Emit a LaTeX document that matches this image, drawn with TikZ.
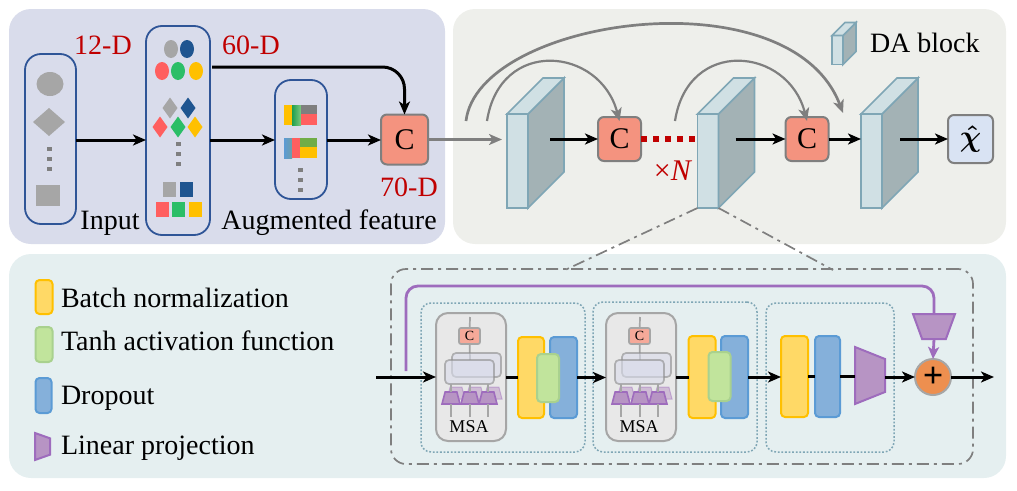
\documentclass[tikz,border=0pt]{standalone}
\usepackage{fontspec}
\setmainfont{Liberation Serif}
\usetikzlibrary{arrows.meta,positioning,shapes.geometric,calc}
\definecolor{panA}{HTML}{D9DCEB}
\definecolor{panB}{HTML}{EEEFEB}
\definecolor{panC}{HTML}{E5EFF0}
\definecolor{navy}{HTML}{2F5597}
\definecolor{dkred}{HTML}{C00000}
\definecolor{shgray}{HTML}{A6A6A6}
\definecolor{shblue}{HTML}{1F5590}
\definecolor{shred}{HTML}{FF5F5F}
\definecolor{shgreen}{HTML}{2BBE67}
\definecolor{shyel}{HTML}{FFC000}
\definecolor{edge}{HTML}{7F7F7F}
\definecolor{cfill}{HTML}{F4937F}
\definecolor{blkedge}{HTML}{7FA6B5}
\definecolor{blkfront}{HTML}{D0E0E4}
\definecolor{blkside}{HTML}{A3B2B5}
\definecolor{bnfill}{HTML}{FFD966}
\definecolor{tanhfill}{HTML}{C1E49C}
\definecolor{tanhedge}{HTML}{A9D18E}
\definecolor{dropfill}{HTML}{85B0DA}
\definecolor{dropedge}{HTML}{5B9BD5}
\definecolor{projfill}{HTML}{B794C4}
\definecolor{projedge}{HTML}{9E6CBD}
\definecolor{addfill}{HTML}{ED8F4F}
\definecolor{gradA}{HTML}{1F9F4F}
\definecolor{gradB}{HTML}{7FC97F}
\definecolor{gradC}{HTML}{6E9EA8}
\definecolor{barG}{HTML}{70AD47}
\definecolor{outfill}{HTML}{D9E3F3}
\begin{document}
\begin{tikzpicture}[
  x=1pt,y=-1pt,
  every node/.style={inner sep=0pt,outer sep=0pt},
  txt/.style={font=\fontsize{28}{30}\selectfont},
  redtxt/.style={txt,text=dkred,anchor=base},
  panel/.style={rounded corners=22pt,minimum width=#1},
  group/.style={draw=navy,line width=1.8pt,rounded corners=16pt},
  cbox/.style={draw=edge,line width=2pt,fill=cfill,rounded corners=6pt,font=\fontsize{30}{30}\selectfont},
  dafront/.style={draw=blkedge,line width=1.7pt,fill=blkfront,minimum width=21pt,minimum height=94pt},
  dasmall/.style={draw=blkedge,line width=1.7pt,fill=blkfront,minimum width=11pt,minimum height=29pt},
  daside/.style={draw=blkedge,line width=1.7pt,fill=blkside},
  datop/.style={draw=blkedge,line width=1.7pt,fill=blkfront},
  blk/.style={line width=3pt,-{Stealth[length=13pt,width=11pt,inset=3.5pt]}},
  blkline/.style={line width=3pt},
  gryarr/.style={draw=edge,line width=2.2pt,-{Stealth[length=13pt,width=11pt,inset=3.5pt]}},
  dashdot/.style={draw=edge,line width=1.7pt,dash pattern=on 12pt off 5pt on 3pt off 5pt},
  grpdot/.style={draw=blkedge,line width=1.5pt,dash pattern=on 1.8pt off 1.8pt,rounded corners=10pt},
  bn/.style={draw=shyel,line width=2pt,fill=bnfill,rounded corners=4pt},
  tanh/.style={draw=tanhedge,line width=2pt,fill=tanhfill,rounded corners=4pt},
  drop/.style={draw=dropedge,line width=2pt,fill=dropfill,rounded corners=4pt},
  proj/.style={trapezium,trapezium stretches=true,inner sep=1pt,draw=projedge,line width=2pt,fill=projfill},
  msabox/.style={draw=shgray,line width=2pt,fill=black!9,rounded corners=12pt,minimum width=70pt,minimum height=128pt},
  msaline/.style={draw=shgray,line width=1.7pt},
  attn/.style={draw=black!45,draw opacity=.6,line width=1.7pt,fill=panA,fill opacity=.6,rounded corners=4pt,minimum width=49pt,minimum height=24pt},
  purp/.style={draw=projedge,line width=2.8pt}
]
\useasboundingbox (0,0) rectangle (1017,490);

% panels
\node[panel=436pt,fill=panA,minimum height=235pt] (pnla) at (227,126.5) {};
\node[panel=553pt,fill=panB,minimum height=235pt] (pnlb) at (729.5,126.5) {};
\node[panel=997pt,fill=panC,minimum height=224pt] (pnlc) at (507.5,366) {};

% feature groups
\node[group,minimum width=51pt,minimum height=170pt] (inp) at (50.5,139) {};
\node[group,minimum width=64pt,minimum height=209pt] (mid) at (178,130.5) {};
\node[group,minimum width=52pt,minimum height=119pt] (aug) at (301,139.5) {};

\fill[shgray] (50,84) ellipse (13.5 and 12);
\fill[shgray] (33,122)--(49,108)--(65,122)--(49,136)--cycle;
\fill[shgray] (36,185) rectangle (60,206);
\foreach \x/\y/\c in {171/49/shgray,187/49/shblue,162/71/shred,178/71/shgreen,196/71/shyel}
  \fill[\c] (\x,\y) ellipse (7 and 9);
\foreach \x/\y/\c in {170/108/shgray,188/108/shblue,160/127/shred,178/127/shgreen,195/127/shyel}
  \fill[\c] (\x-7.5,\y)--(\x,\y-10.5)--(\x+7.5,\y)--(\x,\y+10.5)--cycle;
\foreach \x/\y/\c in {163/182/shgray,180/182/shblue,156/202/shred,172/202/shgreen,189/202/shyel}
  \fill[\c] (\x,\y) rectangle ++(13,15);
\foreach \x/\y in {49/149,178/144,300/170}
  \foreach \k in {0,10,20}
    \fill[edge] (\x-2.5,\y+\k-2) rectangle ++(5,4);

\fill[shyel] (284,105) rectangle (292,125);
\shade[left color=gradA,right color=gradB] (292,105) rectangle (301,125);
\fill[edge] (301,105) rectangle (317,114);
\fill[shred] (301,114) rectangle (317,125);
\shade[left color=dropedge,right color=gradC] (284,138) rectangle (292,158);
\fill[shred] (292,138) rectangle (300,158);
\fill[barG] (300,138) rectangle (317,147);
\fill[shyel] (300,147) rectangle (317,158);

\node[cbox,minimum width=47pt,minimum height=50pt] (cc) at (404.5,139.5) {C};

\node[redtxt] (d12) at (103,54) {12-D};
\node[redtxt] (d60) at (251,54) {60-D};
\node[redtxt] (d70) at (409,196) {70-D};
\node[txt,anchor=base] (linp) at (110,229) {Input};
\node[txt,anchor=base] (laug) at (329,229) {Augmented feature};

\coordinate (m60) at (212,67);
\draw[blk] (inp.east |- 0,140) -- (mid.west |- 0,140);
\draw[blk] (mid.east |- 0,140) -- (aug.west |- 0,140);
\draw[blk] (aug.east |- 0,140) -- (cc.west |- 0,140);
\draw[blk,rounded corners=22pt] (m60) -| (cc.north);

% DA blocks
\foreach \n/\x/\d in {ba/517.5/22,bb/708/17,bc/871.5/18}{
  \node[dafront] (\n) at (\x,161) {};
  \draw[daside] (\n.north east)--++(36,-36)--++(0,94)--(\n.south east)--cycle;
  \draw[datop] (\n.north west)--++(36,-36)--++(21,0)--(\n.north east)--cycle;
  \coordinate (\n o) at ($(\n.east)+(\d,-22)$);
}
\node[dasmall] (lgb) at (837.5,50) {};
\draw[daside] (lgb.north east)--++(13,-13)--++(0,29)--(lgb.south east)--cycle;
\draw[datop] (lgb.north west)--++(13,-13)--++(11,0)--(lgb.north east)--cycle;
\node[txt,anchor=base west] (lgt) at (870,52) {DA block};

\node[cbox,minimum width=43pt,minimum height=44pt] (c1) at (619.5,139) {C};
\node[cbox,minimum width=43pt,minimum height=44pt] (c2) at (807,139) {C};
\node[draw=edge,line width=2pt,fill=outfill,rounded corners=6pt,minimum width=45pt,minimum height=48pt,font=\fontsize{24.88}{26}\selectfont] (out) at (970.5,139) {\scalebox{1.2}{\boldmath$\hat{\chi}$}};
\node[redtxt,font=\fontsize{30}{30}\selectfont] (xn) at (673,180) {×\textit{N}};

\coordinate (s0) at (466,121);
\coordinate (s1) at (487,121);
\coordinate (s2) at (675,121);
\coordinate (e0) at (843,113);
\draw[gryarr] (cc.east) -- ([xshift=-5pt]ba.west |- cc.east);
\draw[gryarr] (s1) .. controls (500,37) and (600,47) .. ([yshift=-4pt]c1.north);
\draw[gryarr] (s2) .. controls (688,37) and (788,47) .. ([yshift=-4pt]c2.north);
\draw[gryarr,line width=2.7pt] (s0) .. controls (478,18) and (790,-27) .. (e0);

\draw[blk] (bao) -- (c1.west |- bao);
\draw[blk] (bbo) -- (c2.west |- bbo);
\draw[blk] (c2.east) -- (bc.west |- c2.east);
\draw[blk] (bco) -- (out.west |- bco);
\draw[dkred,line width=5.5pt,dash pattern=on 5.5pt off 6.5pt] (c1.east) -- (bb.west |- c1.east);

% detail of a block
\node[dashdot,rounded corners=15pt,minimum width=582pt,minimum height=195pt] (zoombox) at (682,366.5) {};
\coordinate (zl) at (565,270);
\coordinate (zr) at (833,270);
\draw[dashdot] (bb.south west) -- (zl);
\draw[dashdot] (bb.south east) -- (zr);

\node[grpdot,minimum width=164pt,minimum height=149pt] (g1) at (503,377.5) {};
\node[grpdot,minimum width=164pt,minimum height=150pt] (g2) at (675,377) {};
\node[grpdot,minimum width=128pt,minimum height=149pt] (g3) at (830,377.5) {};

% MSA
\foreach \n/\dx in {p/0,q/170}{
  \node[msabox] (\n m) at (471+\dx,377) {};
  \coordinate (\n t) at (470+\dx,317);
  \node[draw=shgray,line width=1.7pt,fill=cfill!80!white,rounded corners=2pt,minimum width=21pt,minimum height=16pt,font=\fontsize{14}{14}\selectfont] (\n c) at (469.5+\dx,336) {C};
  \coordinate (\n j) at (470+\dx,360);
  \draw[msaline] (\n t) -- (\n c);
  \draw[msaline] (\n c) -- (\n j);
  \foreach \k/\o in {1/451,2/470,3/488}{
    \node[proj,draw opacity=.45,fill opacity=.5,line width=1pt,trapezium left angle=75,trapezium right angle=75,minimum width=18pt,minimum height=12pt] (\n b\k) at (\o+5+\dx,393) {};
  }
  \node[attn] (\n r) at (476.5+\dx,365) {};
  \node[attn] (\n f) at (469.5+\dx,372) {};
  \foreach \k/\o in {1/451,2/470,3/488}{
    \node[proj,trapezium left angle=75,trapezium right angle=75,line width=1.6pt,minimum width=18pt,minimum height=12pt] (\n a\k) at (\o+\dx,398) {};
    \coordinate (\n u\k) at (\o+\dx,417);
    \draw[msaline] (\n a\k.bottom side) -- (\n u\k);
    \draw[msaline] (\n a\k.top side) -- (\n a\k.top side |- \n f.south);
  }
  \node[anchor=base,font=\fontsize{18}{18}\selectfont] (\n l) at (469+\dx,432) {MSA};
}

\node[bn,minimum width=26pt,minimum height=81pt] (y1) at (531,377.5) {};
\node[drop,minimum width=27pt,minimum height=81pt] (d1) at (563.5,377.5) {};
\node[tanh,minimum width=22pt,minimum height=48pt] (t1) at (548,378) {};
\node[bn,minimum width=27pt,minimum height=82pt] (y2) at (702,377) {};
\node[drop,minimum width=27pt,minimum height=82pt] (d2) at (734.5,377) {};
\node[tanh,minimum width=22pt,minimum height=49pt] (t2) at (719.5,376.5) {};
\node[bn,minimum width=27pt,minimum height=81pt] (y3) at (794.5,376.5) {};
\node[drop,minimum width=25pt,minimum height=81pt] (d3) at (827.5,376.5) {};
\node[proj,shape border rotate=270,trapezium left angle=70,trapezium right angle=70,minimum width=57pt,minimum height=30pt] (lp) at (870,375.5) {};
\node[proj,shape border rotate=180,trapezium left angle=69,trapezium right angle=69,minimum width=42pt,minimum height=25pt] (tp) at (934,326.5) {};
\node[circle,draw=shgray,line width=2pt,fill=addfill,minimum size=36pt] (add) at (933,377) {};
\node[font=\fontsize{36}{36}\selectfont\bfseries] (addp) at (add.center) {+};

\coordinate (ml) at (376,377);
\coordinate (mr) at (994,377);
\coordinate (sk) at (406,371);
\coordinate (pk) at (934,286);
\draw[purp,rounded corners=12pt] (sk) |- (pk) -- (tp.bottom side);
\draw[purp,-{Stealth[length=12pt,width=11pt,inset=3pt]}] (tp.top side) -- (add.north);

\draw[blk] (ml) -- (pm.west |- ml);
\draw[blkline] (pm.east |- y1.west) -- (y1.west);
\draw[blk] (d1.east) -- (qm.west |- d1.east);
\draw[blkline] (qm.east |- y2.west) -- (y2.west);
\draw[blk] (d2.east) -- (y3.west |- d2.east);
\draw[blkline] (y3.east) -- (d3.west);
\draw[blkline] (d3.east) -- (lp.bottom side |- d3.east);
\draw[blk] (lp.top side |- add.west) -- (add.west);
\draw[blk] (add.east) -- (mr);

% legend
\node[bn,minimum width=17pt,minimum height=34pt] (kbn) at (44,297) {};
\node[tanh,minimum width=17pt,minimum height=35pt] (ktn) at (44,344.5) {};
\node[drop,minimum width=16pt,minimum height=35pt] (kdr) at (43.5,395.5) {};
\node[proj,shape border rotate=270,trapezium left angle=72,trapezium right angle=72,minimum width=27pt,minimum height=15pt] (klp) at (42.5,446.5) {};
\node[txt,anchor=base west] (tbn) at (61,307) {Batch normalization};
\node[txt,anchor=base west] (ttn) at (61,350) {Tanh activation function};
\node[txt,anchor=base west] (tdr) at (61,404) {Dropout};
\node[txt,anchor=base west] (tlp) at (61,454) {Linear projection};
\end{tikzpicture}
\end{document}
